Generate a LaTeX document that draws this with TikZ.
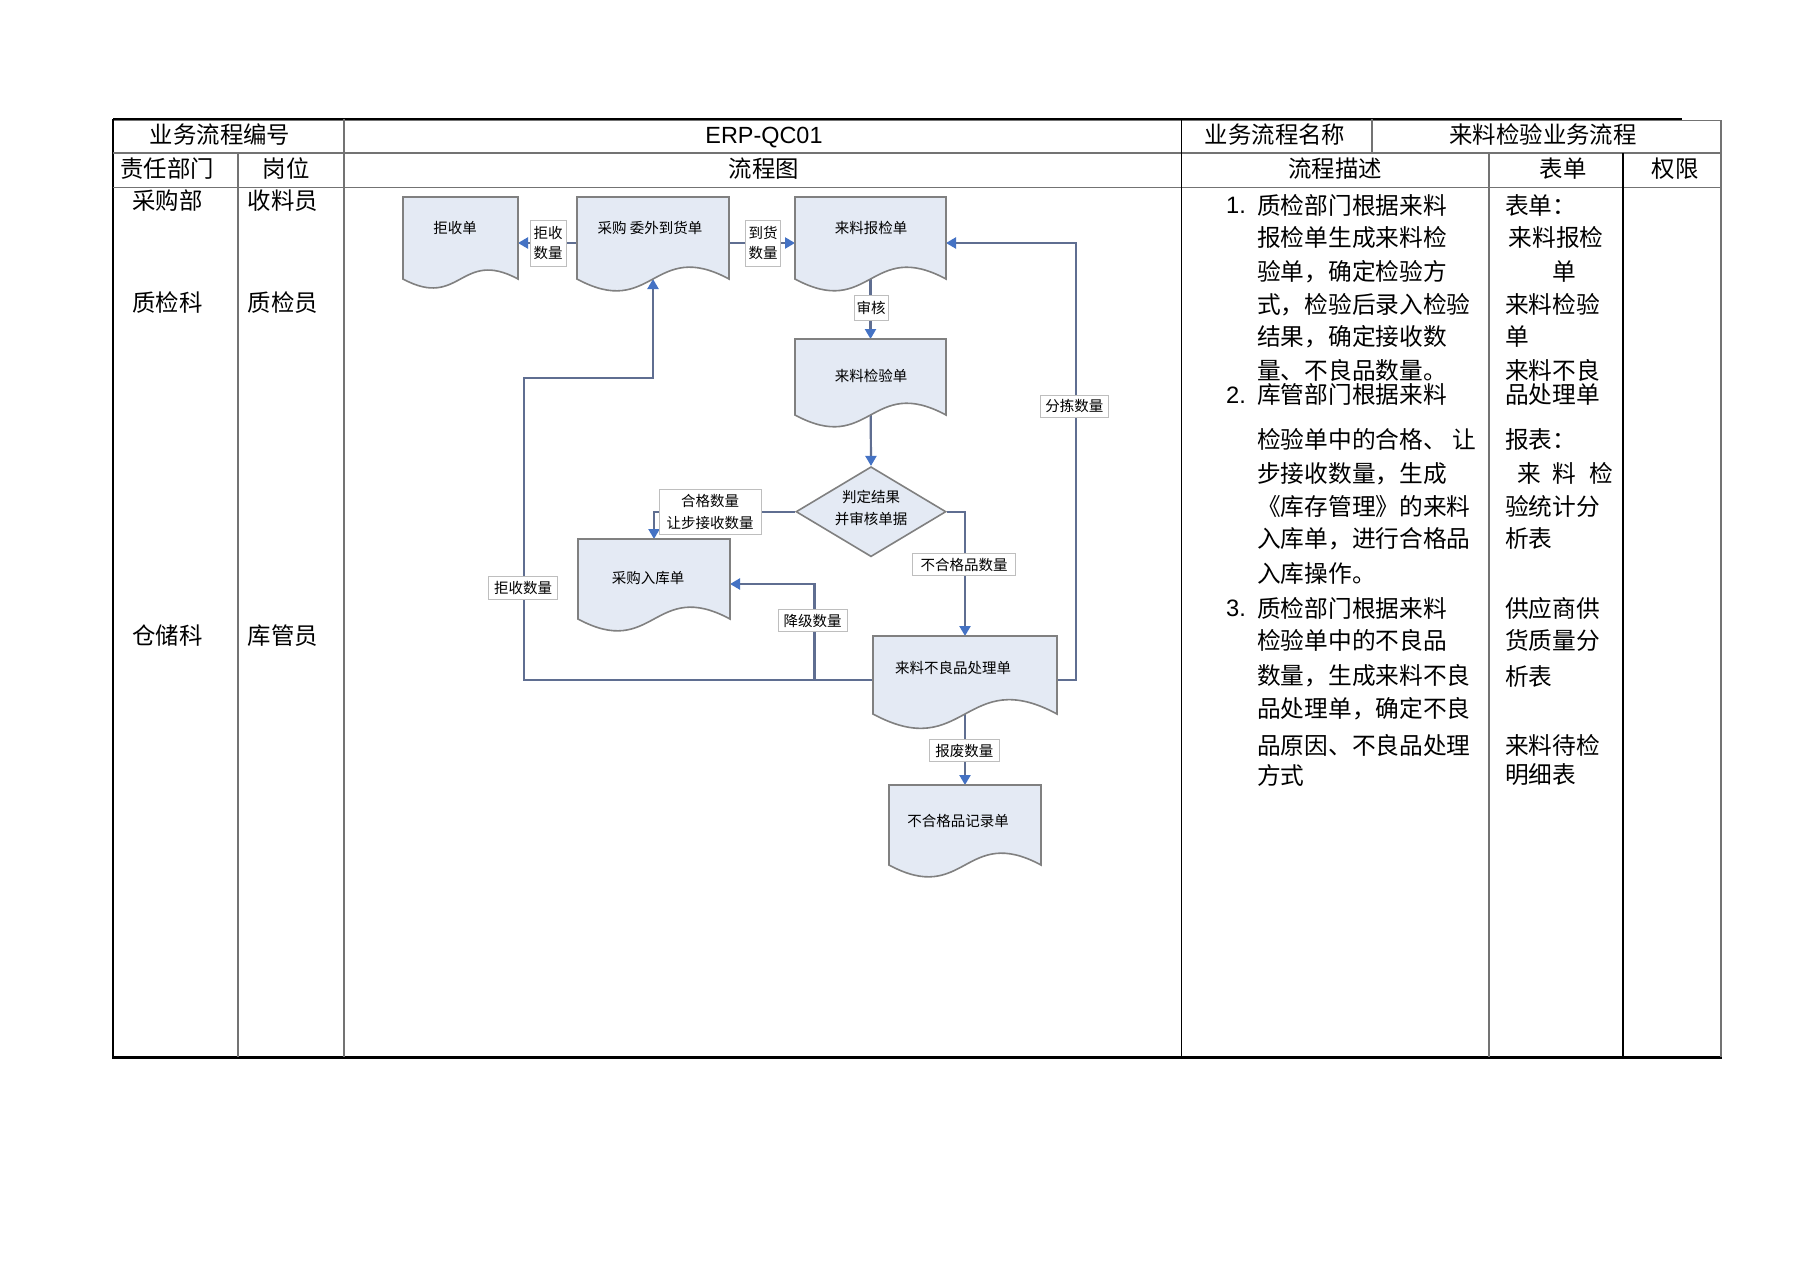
\documentclass[tikz,border=0pt]{standalone}
\usepackage{fontspec}
\setmainfont{Noto Sans CJK SC}
\newfontfamily\lat{Liberation Sans}
\usetikzlibrary{arrows.meta,shapes.geometric}
\pgfdeclarelayer{back}
\pgfdeclarelayer{bg}
\pgfsetlayers{back,bg,main}
\definecolor{docfill}{RGB}{228,234,244}
\definecolor{docline}{RGB}{128,128,128}
\definecolor{flowline}{RGB}{95,110,145}
\definecolor{tipblue}{RGB}{68,114,196}
\definecolor{gridgray}{RGB}{115,115,115}
\definecolor{lblline}{RGB}{190,190,190}
\newcommand\docbox[6]{% name, x1, y1, x2, yb, text-y
  \node[inner sep=0pt, outer sep=0pt, minimum width={#4-#2}, minimum height={#5+10-#3}, anchor=north west] (#1) at (#2,#3) {};
  \filldraw[docstyle] (#2,#3) -- (#4,#3) -- (#4,#5) .. controls ({(#2+#4)/2},{#5-0.27*(#4-#2)}) and ({(#2+#4)/2},{#5+0.27*(#4-#2)}) .. (#2,#5) -- cycle;
}
\begin{document}
\begin{tikzpicture}[x=1pt,y=-1pt,
  big/.style={font=\fontsize{23.4}{28}\selectfont, inner sep=0pt},
  desc/.style={font=\fontsize{23.7}{28}\selectfont, inner sep=0pt, anchor=west},
  small/.style={font=\fontsize{14.5}{20}\selectfont, inner sep=0pt, align=center},
  docstyle/.style={fill=docfill, draw=docline, line width=1.6pt},
  flow/.style={draw=flowline, line width=2.2pt, -{Triangle[length=10pt,width=11pt,color=tipblue]}},
  lbl/.style={small, draw=lblline, fill=white, line width=0.9pt},
  grid/.style={draw=gridgray, line width=1.6pt},
  thin/.style={draw=black, line width=1.2pt}]
\useasboundingbox (0,0) rectangle (1804,1274);
\begin{pgfonlayer}{back}
\fill[white] (0,0) rectangle (1804,1274);
\end{pgfonlayer}

% ---------- table frame ----------
\draw[grid, line width=1pt] (113,120.5) -- (1721,120.5);
\draw[black, line width=2.6pt] (113,119) -- (1682,119);
\draw[black, line width=3pt] (112,1057) -- (1722,1057);
\draw[black, line width=1.8pt] (113,119) -- (113,1057);
\draw[grid, line width=2pt] (1721,120) -- (1721,1057);
\draw[grid] (113,153) -- (1721,153);
\draw[grid] (113,187.5) -- (1721,187.5);
\draw[grid, line width=2pt] (238,153) -- (238,1057);
\draw[grid, line width=2pt] (344,119) -- (344,1057);
\draw[thin] (1181.5,119) -- (1181.5,1057);
\draw[grid] (1372,119) -- (1372,153);
\draw[grid, line width=2.2pt] (1489,153) -- (1489,1057);
\draw[thin] (1623,153) -- (1623,1057);

% ---------- table headers ----------
\node[big] (h1) at (220,135) {业务流程编号};
\node[big, font=\lat\fontsize{23.4}{28}\selectfont] (h2) at (764,137.5) {ERP-QC01};
\node[big] (h3) at (1275,135) {业务流程名称};
\node[big] (h4) at (1543,135) {来料检验业务流程};
\node[big] (h5) at (167,168.5) {责任部门};
\node[big] (h6) at (286,168.5) {岗位};
\node[big] (h7) at (764,168.5) {流程图};
\node[big] (h8) at (1335,168.5) {流程描述};
\node[big] (h9) at (1563,168.5) {表单};
\node[big] (h10) at (1675,168.5) {权限};
\node[big] (r1) at (167.5,201) {采购部};
\node[big] (r2) at (283,201) {收料员};
\node[big] (r3) at (167.5,302.6) {质检科};
\node[big] (r4) at (283,302.6) {质检员};
\node[big] (r5) at (167.5,636) {仓储科};
\node[big] (r6) at (283,636) {库管员};

% ---------- description ----------
\node[desc, font=\lat\fontsize{23.7}{28}\selectfont] (n1) at (1226,205) {1.};
\node[desc, font=\lat\fontsize{23.7}{28}\selectfont] (n2) at (1226,395) {2.};
\node[desc, font=\lat\fontsize{23.7}{28}\selectfont] (n3) at (1226,608.3) {3.};
\foreach \yy/\txt [count=\i] in {205/质检部门根据来料, 237.7/报检单生成来料检, 271.7/验单，确定检验方,
  304.3/式，检验后录入检验, 336.7/结果，确定接收数, 370/量、不良品数量。, 395/库管部门根据来料,
  439.3/检验单中的合格、 让, 473.3/步接收数量，生成, 506/《库存管理》的来料, 538.3/入库单，进行合格品,
  573.3/入库操作。, 608.3/质检部门根据来料, 640.7/检验单中的不良品, 676/数量，生成来料不良,
  708.3/品处理单，确定不良, 745/品原因、不良品处理, 775/方式}
  \node[desc] (d\i) at (1257,\yy) {\txt};

% ---------- forms column ----------
\foreach \xx/\yy/\txt [count=\i] in {1505/205/表单：, 1508.6/237.7/来料报检, 1505/304.3/来料检验, 1505/336.7/单,
  1505/370/来料不良, 1505/395/品处理单, 1505/439.3/报表：, 1505/506/验统计分, 1505/538.3/析表,
  1505/608.3/供应商供, 1505/640.7/货质量分, 1505/676/析表, 1505/745/来料待检, 1505/775/明细表}
  \node[desc] (f\i) at (\xx,\yy) {\txt};
\node[big, font=\fontsize{23.7}{28}\selectfont] (g1) at (1564,271.7) {单};
\node[big, font=\fontsize{23.7}{28}\selectfont] (g2) at (1529,473.3) {来};
\node[big, font=\fontsize{23.7}{28}\selectfont] (g3) at (1564,473.3) {料};
\node[big, font=\fontsize{23.7}{28}\selectfont] (g4) at (1601,473.3) {检};

% ---------- flowchart shapes ----------
\docbox{jsd}{403}{197}{518}{279}{}
\docbox{cg}{577}{197}{729}{279}{}
\docbox{bj}{795}{197}{946}{279}{}
\docbox{jy}{795}{339}{946}{415}{}
\docbox{rk}{578}{539}{730}{619}{}
\docbox{bl}{873}{636}{1057}{714}{}
\docbox{fj}{889}{785}{1041}{865}{}
\node[diamond, draw=docline, fill=docfill, line width=1.6pt, minimum width=150pt, minimum height=90pt, inner sep=0pt] (dm) at (871,511.7) {};

\node[small] (jsd-t) at (455,228) {拒收单};
\node[small] (cg-t) at (650,228) {采购\ 委外到货单};
\node[small] (bj-t) at (871,228) {来料报检单};
\node[small] (jy-t) at (871,376) {来料检验单};
\node[small] (rk-t) at (648,578) {采购入库单};
\node[small] (bl-t) at (953,668) {来料不良品处理单};
\node[small] (fj-t) at (958,821) {不合格品记录单};
\node[small] (dm-t1) at (871,497) {判定结果};
\node[small] (dm-t2) at (871,519) {并审核单据};

% ---------- connectors ----------
\coordinate (c1) at (523.6,378);
\coordinate (c2) at (814.4,680);
\coordinate (c3) at (1076,243);
\begin{pgfonlayer}{bg}
\draw[flow] (cg.west) -- (jsd.east);
\draw[flow] (cg.east) -- (bj.west);
\draw[flow] (bj.center) -- (jy.north);
\draw[flow] (jy.center) -- (dm.north);
\draw[flow] (dm.west) -| (rk.north);
\draw[flow] (dm.east) -| (bl.north);
\draw[flow] (bl.west) -| (c1) -| ([yshift=10pt]cg.south);
\draw[flow] (c2) |- (rk.east);
\draw[flow] (bl.east) -| (c3) -- (bj.east);
\draw[flow] (bl.center) -- (fj.north);
\end{pgfonlayer}

% ---------- connector labels ----------
\node[lbl, minimum width=36pt, minimum height=46pt] (l1) at (548,243) {拒收\\数量};
\node[lbl, minimum width=35pt, minimum height=46pt] (l2) at (763,243) {到货\\数量};
\node[lbl, minimum width=34pt, minimum height=25pt] (l3) at (871,307.5) {审核};
\node[lbl, minimum width=102pt, minimum height=45pt, font=\fontsize{14.5}{22}\selectfont] (l4) at (710,511.5) {合格数量\\让步接收数量};
\node[lbl, minimum width=102.6pt, minimum height=22.4pt] (l5) at (964,564.5) {不合格品数量};
\node[lbl, minimum width=69pt, minimum height=22.3pt] (l6) at (523,588) {拒收数量};
\node[lbl, minimum width=68.5pt, minimum height=22.4pt] (l7) at (812.7,620.5) {降级数量};
\node[lbl, minimum width=67.3pt, minimum height=22pt] (l8) at (1074.4,406) {分拣数量};
\node[lbl, minimum width=70pt, minimum height=22.4pt] (l9) at (964.3,750.5) {报废数量};
\end{tikzpicture}
\end{document}
